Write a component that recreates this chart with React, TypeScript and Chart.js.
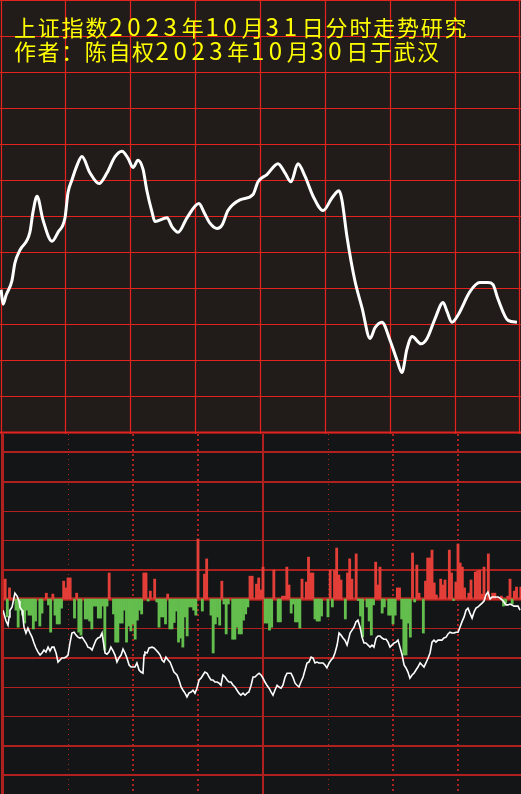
import React, { useEffect, useRef } from "react";
import { Chart, registerables } from "chart.js";

Chart.register(...registerables);

// ---------- text ----------
const TITLE_LINE_1 = "上证指数2023年10月31日分时走势研究";
const TITLE_LINE_2 = "作者：陈自权2023年10月30日于武汉";

// ---------- axes ----------
const TIME_TICKS = [0, 30, 60, 90, 120, 150, 180, 210, 240];
const PRICE_TICKS = [3008, 3010, 3012, 3014, 3016, 3018, 3020, 3022, 3024, 3026, 3028, 3030, 3032];
const FLOW_TICKS = [-60, -50, -40, -30, -20, -10, 0, 10, 20, 30, 40, 50];

// ---------- upper panel: index curve (minute, value) ----------
const priceMinutes = [
  0.5, 1.4, 2.8, 5.5, 6.9, 9.2, 13.8, 15.2, 17.1, 19.8, 24.0, 26.8, 30.0, 31.4, 33.2, 35.5, 37.8, 41.5, 45.7, 49.4,
  53.1, 56.3, 59.1, 61.4, 63.7, 66.0, 67.8, 70.2, 71.5, 77.1, 79.4, 82.2, 86.3, 91.8, 94.2, 96.9, 100.2, 102.5, 105.2, 110.8,
  116.8, 119.1, 123.2, 128.3, 131.5, 134.3, 137.5, 140.8, 144.5, 149.1, 153.2, 156.5, 157.8, 160.2, 163.8, 167.1, 170.8, 173.1, 176.3, 180.0,
  183.2, 185.5, 187.8, 190.2, 194.3, 197.1, 200.8, 204.5, 206.3, 208.6, 211.4, 216.9, 221.5, 225.2, 227.5, 229.8, 234.5, 238.6,
];
const priceValues = [
  3015.9, 3015.1, 3015.6, 3016.4, 3017.4, 3018.1, 3019.1, 3020.2, 3021.1, 3019.8, 3018.6, 3019.1, 3019.9, 3021.3, 3022.0, 3022.8, 3023.3, 3022.4, 3021.8, 3022.4,
  3023.3, 3023.6, 3023.2, 3022.7, 3023.1, 3022.6, 3021.4, 3020.2, 3019.7, 3019.9, 3019.4, 3019.1, 3019.9, 3020.7, 3020.2, 3019.6, 3019.3, 3019.5, 3020.3, 3020.9,
  3021.2, 3021.9, 3022.3, 3022.9, 3022.4, 3021.9, 3022.9, 3022.2, 3021.1, 3020.3, 3021.0, 3021.4, 3020.9, 3018.8, 3016.4, 3014.9, 3013.2, 3013.8, 3014.1, 3013.1,
  3012.0, 3011.3, 3012.6, 3013.3, 3012.9, 3013.2, 3014.3, 3015.2, 3014.7, 3014.1, 3014.5, 3015.8, 3016.3, 3016.3, 3016.2, 3015.4, 3014.2, 3014.1,
];

// ---------- lower panel: per-minute bars (positive red, negative green) ----------
const flowBars = [
  0, 6.8, -6.1, 3.8, 0, 0, -3.8, -9.6, -3.8, -5.5, -8.2, -3.8, -5.5, -5.5, -10.2, -7.5, 0, -9.2, -4.8, 0,
  2.0, -2.0, -11.3, 1.7, -5.5, -8.5, -8.5, -3.1, 6.1, 3.8, 7.2, 7.2, 0, -6.5, 2.0, -11.3, -12.3, 0, -6.8, -6.8,
  -7.5, -10.2, -2.4, -2.4, -6.5, -6.5, -2.4, -17.4, -2.4, 8.9, 0, -5.1, -14.7, -14.7, -8.2, -8.2, -3.8, -14.7, -9.2, -10.9,
  -8.5, -13.7, -7.2, -3.8, -5.1, 8.9, 8.9, -0.7, 2.7, 0, 6.8, -1.0, -9.6, -6.1, -6.1, -8.5, 1.7, -10.2, -10.2, -8.0,
  -4.1, -14.7, -13.3, -16.4, -6.1, -12.6, -2.7, -2.7, -3.8, -5.5, 20.5, 0, -4.1, 8.5, 13.7, 0, -5.5, -18.4, -8.5, -6.1,
  -8.9, 6.1, -1.7, -11.9, -1.7, 0, -13.7, -13.7, -9.6, -11.9, -11.9, -7.2, -5.1, -2.7, 7.8, 7.8, 0, 5.1, 7.2, 3.1,
  10.9, -8.2, -8.2, -10.6, -9.6, 9.9, 0, -7.8, -7.8, 1.0, 1.0, 10.9, 4.8, -4.8, -1.7, -7.8, -7.8, -9.9, 6.8, 0,
  5.8, 14.3, 8.9, 8.9, -6.8, -7.5, -7.5, -5.8, 0, 0, -6.1, 9.9, -2.7, 9.9, 17.4, 8.2, 6.5, 0, -6.8, 8.9,
  13.7, 6.8, 0, 15.4, -0.5, -5.8, -13.0, 0, -2.7, -7.5, -12.3, -2.0, 12.6, 4.8, 10.9, -4.8, -2.7, 0, -5.5, -5.5,
  -8.5, -5.5, 3.8, 3.8, -6.8, -19.1, -19.1, -8.2, -13.0, 15.7, -1.0, 11.6, 2.0, 0, -11.6, 6.1, 14.0, 14.0, 16.7, 5.5,
  1.4, 0, 6.8, 4.8, 6.5, 0, 16.7, 8.9, -0.5, 5.8, 18.8, 12.3, 10.9, 3.8, 0, 2.0, 6.5, 0, 9.2, 9.6,
  9.9, 1.7, 10.9, 0, 15.4, 0, 2.0, 2.0, 0, 0, 1.0, -2.4, -1.4, 1.0, 6.8, -1.7, 2.7, 4.1, 0, 4.1,
];

// ---------- lower panel: white line (minute, value) ----------
const flowLineMinutes = [
  0, 1.4, 2.3, 2.8, 3.2, 4.2, 5.5, 6.5, 7.4, 7.8, 8.8, 9.2, 9.7, 10.6, 11.5, 12.5, 13.4, 14.3, 15.2, 16.2,
  17.1, 18.0, 18.9, 19.8, 20.8, 21.7, 22.6, 23.5, 24.5, 25.4, 26.3, 27.2, 28.2, 29.1, 30.0, 30.9, 31.8, 32.8, 33.7, 34.6,
  35.5, 36.5, 37.4, 38.3, 39.2, 40.2, 41.1, 42.0, 42.9, 43.8, 44.8, 45.7, 46.2, 47.1, 48.0, 48.9, 49.8, 50.8, 51.7, 52.6,
  53.5, 54.5, 55.4, 56.3, 57.2, 58.2, 59.1, 60.0, 60.9, 61.8, 62.8, 63.7, 64.6, 65.1, 65.5, 66.5, 67.4, 68.8, 69.7, 70.6,
  71.5, 72.5, 73.4, 74.3, 75.2, 76.2, 77.1, 78.0, 78.9, 80.3, 81.2, 82.2, 83.1, 84.0, 84.9, 85.8, 86.8, 87.7, 88.6, 89.5,
  90.5, 91.4, 92.3, 93.2, 94.2, 95.1, 96.0, 96.9, 97.8, 98.8, 99.7, 100.6, 101.5, 102.5, 103.4, 104.3, 105.2, 106.2, 107.1, 108.0,
  108.9, 109.8, 110.8, 111.7, 112.6, 113.5, 114.5, 115.4, 116.3, 117.2, 118.2, 119.1, 120.0, 120.9, 121.8, 122.8, 123.7, 124.6, 125.5, 126.5,
  127.4, 128.3, 129.2, 130.2, 131.1, 132.0, 132.9, 133.8, 134.8, 135.7, 136.6, 137.5, 138.5, 139.4, 140.3, 141.2, 142.2, 143.1, 144.0, 144.9,
  145.8, 146.8, 147.7, 148.6, 149.5, 150.5, 151.4, 152.3, 153.2, 154.2, 155.1, 156.0, 156.9, 157.8, 158.8, 160.2, 161.1, 162.0, 162.9, 163.8,
  164.8, 165.7, 166.6, 167.5, 168.5, 169.4, 170.3, 171.2, 172.2, 173.1, 174.0, 174.9, 175.8, 176.8, 177.7, 178.6, 179.5, 180.5, 181.4, 182.3,
  183.2, 184.2, 185.1, 186.0, 186.9, 187.8, 188.8, 189.7, 190.6, 191.5, 192.5, 193.4, 194.3, 195.2, 196.2, 197.1, 198.0, 198.9, 199.8, 200.8,
  201.7, 202.6, 203.5, 204.5, 205.4, 206.3, 207.2, 208.2, 209.1, 210.0, 210.9, 211.8, 212.8, 213.7, 214.6, 215.5, 216.5, 217.4, 218.3, 219.2,
  220.2, 221.1, 222.0, 222.9, 223.8, 224.8, 225.7, 226.6, 227.5, 228.5, 229.4, 230.3, 231.2, 232.1, 233.1, 234.0, 234.9, 235.8, 236.8, 237.7,
  238.6,
];
const flowLineValues = [
  -3.8, -7.5, -8.9, -6.1, -3.8, -2.7, 2.0, 1.0, -0.7, -2.7, -3.8, -6.1, -9.6, -11.6, -9.9, -11.6, -13.0, -15.0, -16.7, -18.1,
  -19.1, -18.4, -17.4, -18.1, -16.4, -17.7, -16.4, -16.4, -18.4, -21.5, -20.8, -20.1, -20.1, -19.8, -19.1, -15.0, -11.6, -11.3, -12.3, -13.0,
  -13.3, -13.0, -14.0, -15.0, -16.4, -16.7, -17.4, -15.7, -14.0, -13.3, -13.0, -11.6, -14.0, -18.4, -18.8, -18.1, -16.4, -17.7, -19.1, -21.5,
  -20.1, -19.1, -17.1, -18.4, -20.1, -22.5, -23.2, -23.2, -23.2, -21.8, -24.2, -24.9, -25.3, -19.1, -18.1, -18.4, -16.7, -16.4, -16.7, -17.4,
  -18.1, -19.1, -20.8, -21.5, -19.8, -20.8, -21.5, -23.2, -24.9, -25.9, -27.6, -30.0, -31.1, -32.1, -33.4, -32.1, -31.7, -31.1, -32.1, -30.4,
  -27.6, -27.0, -25.9, -24.9, -25.3, -26.6, -27.6, -27.6, -28.3, -28.3, -28.7, -29.4, -25.9, -26.6, -27.6, -28.3, -28.3, -29.4, -30.0, -31.1,
  -32.1, -32.8, -32.1, -32.8, -32.1, -31.7, -29.4, -26.6, -26.6, -25.9, -25.3, -25.9, -27.0, -28.3, -29.4, -30.4, -31.7, -32.8, -31.1, -29.4,
  -30.0, -30.4, -29.4, -26.6, -25.3, -25.3, -25.3, -26.6, -28.7, -29.4, -30.0, -28.3, -26.6, -24.2, -21.8, -21.5, -19.8, -20.1, -21.8, -21.5,
  -21.8, -21.8, -21.8, -22.5, -23.5, -21.8, -20.8, -20.1, -18.4, -15.7, -11.6, -12.3, -13.3, -14.0, -15.7, -11.6, -10.6, -9.6, -7.8, -7.2,
  -9.6, -13.0, -15.0, -15.0, -15.7, -16.4, -15.7, -16.4, -13.3, -12.6, -12.6, -13.3, -13.7, -13.7, -14.7, -16.4, -15.7, -15.0, -14.7, -14.0,
  -16.4, -19.1, -22.5, -23.5, -24.9, -27.0, -25.9, -25.3, -24.2, -23.2, -21.8, -22.5, -23.2, -21.8, -20.1, -18.4, -14.7, -14.0, -14.7, -14.0,
  -14.0, -14.0, -13.3, -13.0, -11.9, -11.3, -11.6, -11.6, -11.3, -11.3, -9.6, -7.8, -6.1, -3.8, -3.1, -4.8, -6.5, -4.4, -3.1, -2.7,
  -2.0, -1.4, -0.7, 1.4, 2.4, 0, 0.7, 0.7, 0.7, 0.7, 0.3, -0.3, -1.0, -2.0, -2.0, -1.7, -2.0, -2.4, -2.4, -2.4,
  -3.8,
];

// ---------- styles ----------
const TOP_BG = "#211c1a";
const BOTTOM_BG = "#141517";
const TOP_GRID = "#e4221e";
const BOTTOM_GRID = "#b0201e";
const UP_RED = "#e33e38";
const DOWN_GREEN = "#63be4d";
const TITLE_YELLOW = "#ffff00";

// line widths for lower horizontal grid, keyed by tick value
const FLOW_GRID_WIDTH: Record<number, number> = {
  50: 2, 40: 2, 30: 1, 20: 1, 10: 2, 0: 3.5, [-10]: 1, [-20]: 2, [-30]: 1, [-40]: 1, [-50]: 2, [-60]: 2,
};
// vertical grid styles in lower panel, keyed by minute
const TIME_GRID_STYLE: Record<number, { w: number; dash: number[] }> = {
  0: { w: 3, dash: [] },
  30: { w: 1, dash: [1, 4] },
  60: { w: 2, dash: [2, 3] },
  90: { w: 2, dash: [2, 3] },
  120: { w: 2, dash: [] },
  150: { w: 1, dash: [1, 4] },
  180: { w: 2, dash: [2, 3] },
  210: { w: 2, dash: [2, 3] },
  240: { w: 2, dash: [] },
};

const topGridPlugin = {
  id: "topGrid",
  beforeDatasetsDraw(chart: any) {
    const { ctx, width, height } = chart;
    const xs = chart.scales.x;
    const ys = chart.scales.y;
    ctx.save();
    ctx.strokeStyle = TOP_GRID;
    ctx.lineWidth = 1.2;
    for (const t of TIME_TICKS) {
      let px = Math.round(xs.getPixelForValue(t));
      px = Math.min(Math.max(px, 1), width - 2);
      ctx.beginPath();
      ctx.moveTo(px + 0.5, 0);
      ctx.lineTo(px + 0.5, height);
      ctx.stroke();
    }
    for (const v of PRICE_TICKS) {
      let py = Math.round(ys.getPixelForValue(v));
      py = Math.min(Math.max(py, 0), height - 2);
      ctx.lineWidth = v === PRICE_TICKS[0] ? 2 : 1.2;
      ctx.beginPath();
      ctx.moveTo(0, py + 0.5);
      ctx.lineTo(width, py + 0.5);
      ctx.stroke();
    }
    ctx.restore();
  },
};

const bottomGridPlugin = {
  id: "bottomGrid",
  beforeDatasetsDraw(chart: any) {
    const { ctx, width, height } = chart;
    const xs = chart.scales.x;
    const ys = chart.scales.y;
    ctx.save();
    ctx.strokeStyle = BOTTOM_GRID;
    for (const v of FLOW_TICKS) {
      const py = Math.round(ys.getPixelForValue(v));
      const w = FLOW_GRID_WIDTH[v] ?? 1;
      ctx.lineWidth = w;
      ctx.setLineDash([]);
      ctx.beginPath();
      const off = w % 2 === 1 ? 0.5 : 0;
      ctx.moveTo(3, py + off);
      ctx.lineTo(width, py + off);
      ctx.stroke();
    }
    for (const t of TIME_TICKS) {
      const st = TIME_GRID_STYLE[t];
      if (!st) continue;
      let px = Math.round(xs.getPixelForValue(t));
      if (px > width) continue;
      if (t === 0) px = 2;
      ctx.lineWidth = st.w;
      ctx.setLineDash(st.dash);
      const off = st.w % 2 === 1 ? 0.5 : 0;
      ctx.beginPath();
      ctx.moveTo(px + off, 0);
      ctx.lineTo(px + off, height);
      ctx.stroke();
    }
    ctx.restore();
  },
};

function TitleLine({ text, top, left, cjkSpacing, digitSpacing }: { text: string; top: number; left: number; cjkSpacing: number; digitSpacing: number }) {
  const runs = text.match(/[0-9]+|[^0-9]+/g) || [];
  return (
    <div
      style={{
        position: "absolute",
        left,
        top,
        whiteSpace: "nowrap",
        color: TITLE_YELLOW,
        fontFamily: '"Noto Sans CJK SC", sans-serif',
        fontSize: 22,
        lineHeight: "22px",
      }}
    >
      {runs.map((r, i) =>
        /[0-9]/.test(r) ? (
          <span key={i} style={{ fontSize: 24, letterSpacing: digitSpacing }}>{r}</span>
        ) : (
          <span key={i} style={{ letterSpacing: cjkSpacing }}>{r}</span>
        )
      )}
    </div>
  );
}

export default function App() {
  const topRef = useRef<HTMLCanvasElement>(null);
  const botRef = useRef<HTMLCanvasElement>(null);

  useEffect(() => {
    document.body.style.margin = "0";
    const topChart = new Chart(topRef.current as HTMLCanvasElement, {
      type: "line",
      data: {
        datasets: [
          {
            data: priceMinutes.map((m, i) => ({ x: m, y: priceValues[i] })),
            borderColor: "#ffffff",
            borderWidth: 3,
            pointRadius: 0,
            cubicInterpolationMode: "monotone",
            fill: false,
          } as any,
        ],
      },
      options: {
        responsive: false,
        animation: false,
        events: [],
        layout: { padding: { left: 0, right: 1, top: 0, bottom: 2 } },
        plugins: { legend: { display: false }, tooltip: { enabled: false } },
        scales: {
          x: { type: "linear", min: 0, max: 240, display: false },
          y: { type: "linear", min: 3008, max: 3032, display: false },
        },
      },
      plugins: [topGridPlugin],
    });

    const botChart = new Chart(botRef.current as HTMLCanvasElement, {
      type: "bar",
      data: {
        datasets: [
          {
            type: "line",
            data: flowLineMinutes.map((m, i) => ({ x: m, y: flowLineValues[i] })),
            borderColor: "#ffffff",
            borderWidth: 1.6,
            pointRadius: 0,
            tension: 0,
            fill: false,
            order: 0,
          } as any,
          {
            type: "bar",
            data: flowBars.map((v, i) => ({ x: i, y: v })),
            backgroundColor: (c: any) => ((c.parsed?.y ?? 0) >= 0 ? UP_RED : DOWN_GREEN),
            borderWidth: 0,
            barPercentage: 1,
            categoryPercentage: 1,
            order: 1,
          } as any,
        ],
      },
      options: {
        responsive: false,
        animation: false,
        events: [],
        layout: { padding: { left: 3, right: 0, top: 0, bottom: 0 } },
        plugins: { legend: { display: false }, tooltip: { enabled: false } },
        scales: {
          x: { type: "linear", min: 0, max: 239.07, display: false, offset: false },
          y: { type: "linear", min: -66.5, max: 56.3, display: false },
        },
      },
      plugins: [bottomGridPlugin],
    });

    return () => {
      topChart.destroy();
      botChart.destroy();
    };
  }, []);

  return (
    <div style={{ position: "relative", width: 521, height: 794, background: BOTTOM_BG, overflow: "hidden" }}>
      <canvas ref={topRef} width={521} height={434} style={{ position: "absolute", left: 0, top: 0, background: TOP_BG }} />
      <canvas ref={botRef} width={521} height={360} style={{ position: "absolute", left: 0, top: 434, background: BOTTOM_BG }} />
      <TitleLine text={TITLE_LINE_1} top={15} left={14} cjkSpacing={1.8} digitSpacing={4.8} />
      <TitleLine text={TITLE_LINE_2} top={39} left={14} cjkSpacing={1.6} digitSpacing={4.6} />
    </div>
  );
}
